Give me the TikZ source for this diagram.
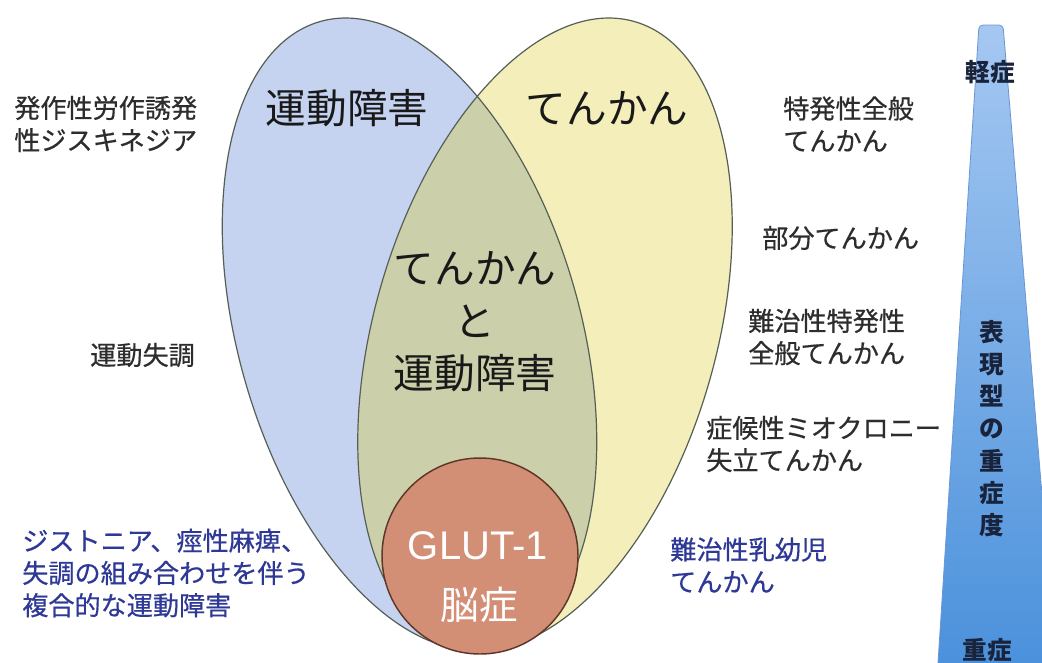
\documentclass[tikz,border=0pt]{standalone}
\usepackage{fontspec}
\setmainfont{Noto Sans CJK JP}
\newfontfamily\medfont[FakeBold=0.5]{Noto Sans CJK JP}
\newfontfamily\latinsans{Liberation Sans}
\definecolor{blueE}{RGB}{197,211,240}
\definecolor{yellowE}{RGB}{243,238,186}
\definecolor{greenE}{RGB}{203,208,171}
\definecolor{circE}{RGB}{211,143,118}
\definecolor{circLine}{RGB}{95,55,40}
\definecolor{ellLine}{RGB}{85,95,85}
\definecolor{txtgray}{RGB}{45,45,45}
\definecolor{txtblue}{RGB}{46,56,150}
\definecolor{barTop}{RGB}{165,200,242}
\definecolor{barBot}{RGB}{70,142,218}
\definecolor{barLine}{RGB}{105,150,210}
\definecolor{barTxt}{RGB}{25,35,60}
\tikzset{
  small/.style={inner sep=0pt, anchor=west, align=left, text=txtgray,
    font=\medfont\fontsize{19.6}{24.2}\selectfont},
  smallblue/.style={small, text=txtblue},
  big/.style={inner sep=0pt, align=center, text=black!90,
    font=\fontsize{30.5}{39.4}\selectfont},
  bartext/.style={inner sep=0pt, align=center, text=barTxt,
    font=\bfseries\fontsize{18.5}{24.2}\selectfont},
  ell/.style={draw=ellLine, line width=0.9pt},
}
\begin{document}
\begin{tikzpicture}[x=0.75pt,y=-0.75pt]
\useasboundingbox (0,0) rectangle (1042,662);
\clip (0,0) rectangle (1042,662);
\fill[white] (0,0) rectangle (1042,662);
% ellipses
\fill[blueE, rotate around={16:(409.5,334)}] (409.5,334) ellipse [x radius=171, y radius=325];
\fill[yellowE, rotate around={-16:(545,334)}] (545,334) ellipse [x radius=171, y radius=325];
\begin{scope}
  \clip[rotate around={16:(409.5,334)}] (409.5,334) ellipse [x radius=171, y radius=325];
  \fill[greenE, rotate around={-16:(545,334)}] (545,334) ellipse [x radius=171, y radius=325];
\end{scope}
\draw[ell, rotate around={16:(409.5,334)}] (409.5,334) ellipse [x radius=171, y radius=325];
\draw[ell, rotate around={-16:(545,334)}] (545,334) ellipse [x radius=171, y radius=325];
% GLUT-1 circle
\draw[fill=circE, draw=circLine, line width=1.1pt] (480,556) circle [radius=98];
\node[inner sep=0pt, text=white, font=\latinsans\fontsize{30}{36}\selectfont] (glut) at (478,546) {GLUT-1};
\node[inner sep=0pt, text=white, font=\fontsize{29}{36}\selectfont] (nosho) at (479,605) {脳症};
% big labels
\node[big] (undo) at (347,108) {運動障害};
\node[big] (tenkan) at (607,108) {てんかん};
\node[big] (both) at (475,322) {てんかん\\と\\運動障害};
% left labels
\node[small] (pked) at (14,124) {発作性労作誘発\\性ジスキネジア};
\node[small] (ataxia) at (90,355) {運動失調};
\node[smallblue] (complex) at (22,573) {ジストニア、痙性麻痺、\\失調の組み合わせを伴う\\複合的な運動障害};
% right labels
\node[small] (ige) at (783,124) {特発性全般\\てんかん};
\node[small] (partial) at (762,238) {部分てんかん};
\node[small] (rige) at (748,337) {難治性特発性\\全般てんかん};
\node[small] (mae) at (706,444) {症候性ミオクロニー\\失立てんかん};
\node[smallblue] (infant) at (670,565) {難治性乳幼児\\てんかん};
% severity bar
\shade[top color=barTop, bottom color=barBot, draw=barLine, line width=0.6pt, rounded corners=3pt]
  (935.6,700) -- (979,25) -- (1003,25) -- (1059,700) -- cycle;
\node[bartext] (mild) at (990,72) {軽症};
\node[bartext] (sevlab) at (992,428.5) {表\\現\\型\\の\\重\\症\\度};
\node[bartext] (severe) at (987,650) {重症};
\end{tikzpicture}
\end{document}
